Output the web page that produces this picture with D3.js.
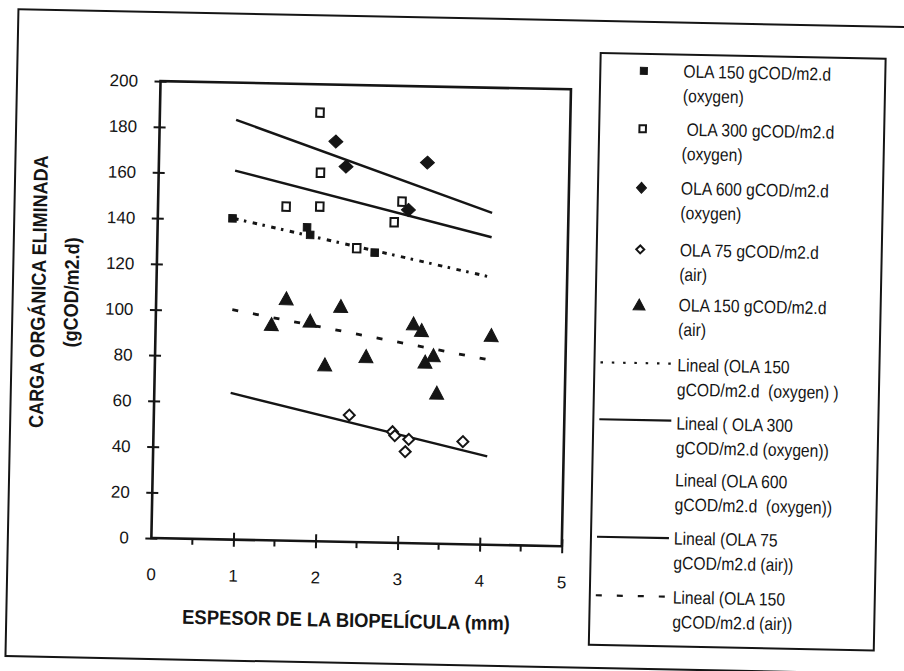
<!DOCTYPE html>
<html>
<head>
<meta charset="utf-8">
<script src="https://cdn.jsdelivr.net/npm/d3@7"></script>
<style>
body { margin: 0; background: #fff; }
text { font-family: "Liberation Sans", Arial, sans-serif; fill: #151515; }
</style>
</head>
<body>
<script>
// values
var ola150oxX = [0.91, 1.82, 1.86, 2.65];
var ola150oxY = [140.6, 137.3, 134.0, 126.8];

var ola300oxX = [1.95, 1.97, 1.56, 1.97, 2.97, 2.88, 2.43];
var ola300oxY = [187.6, 161.3, 146.2, 146.5, 149.4, 140.3, 128.6];

var ola600oxX = [2.15, 2.28, 3.27, 3.05];
var ola600oxY = [175.1, 164.2, 166.7, 145.8];

var ola75airX = [2.38, 2.91, 2.94, 3.11, 3.07, 3.77];
var ola75airY = [55.5, 48.6, 46.9, 45.4, 40.0, 44.9];

var ola150airX = [1.585, 1.41, 1.88, 2.25, 2.07, 2.57, 3.14, 3.24, 3.39, 3.29, 3.44, 4.09];
var ola150airY = [106.1, 94.7, 96.5, 103.2, 77.5, 81.5, 96.2, 93.4, 82.5, 79.6, 66.1, 91.8];

// linear trend lines (start / end)
var trendX = [0.93, 4.07];
var trend150ox = [140.5, 117.1];
var trend300ox = [161.5, 134.6];
var trend600ox = [183.7, 145.3];
var trend75air = [64.2, 38.7];
var trend150air = [100.6, 80.9];

var xTicks = [0, 1, 2, 3, 4, 5];
var xMinor = [0.5, 1.5, 2.5, 3.5, 4.5];
var yTicks = [0, 20, 40, 60, 80, 100, 120, 140, 160, 180, 200];

var legendText = [
    ["OLA 150 gCOD/m2.d", "(oxygen)"],
    [" OLA 300 gCOD/m2.d", "(oxygen)"],
    ["OLA 600 gCOD/m2.d", "(oxygen)"],
    ["OLA 75 gCOD/m2.d", "(air)"],
    ["OLA 150 gCOD/m2.d", "(air)"],
    ["Lineal (OLA 150", "gCOD/m2.d  (oxygen) )"],
    ["Lineal ( OLA 300", "gCOD/m2.d (oxygen))"],
    ["Lineal (OLA 600", "gCOD/m2.d  (oxygen))"],
    ["Lineal (OLA 75", "gCOD/m2.d (air))"],
    ["Lineal (OLA 150", "gCOD/m2.d (air))"]
];

var ink = "#151515";
var W = 904, H = 671;

var svg = d3.select("body").append("svg")
    .attr("width", W)
    .attr("height", H);

svg.append("rect").attr("width", W).attr("height", H).attr("fill", "#fff");

// the scan is a little tilted clockwise
var g = svg.append("g").attr("transform", "rotate(1.15,452,335)");

// outer frame
g.append("rect")
    .attr("x", 12).attr("y", 18)
    .attr("width", 940).attr("height", 647)
    .attr("fill", "none").attr("stroke", ink).attr("stroke-width", 2);

// scales
var x = d3.scaleLinear().domain([0, 5]).range([155.5, 566]);
var y = d3.scaleLinear().domain([0, 200]).range([544, 87]);

// marker shapes
function shape(type, w, h) {
    var a = w / 2, b = h / 2;
    if (type === "square") return `M${-a},${-b}H${a}V${b}H${-a}Z`;
    if (type === "diamond") return `M0,${-b}L${a},0L0,${b}L${-a},0Z`;
    return `M0,${-b}L${a},${b}L${-a},${b}Z`;
}

var series = [
    {xs: ola150oxX, ys: ola150oxY, type: "square", w: 7.5, h: 7.5, filled: true},
    {xs: ola300oxX, ys: ola300oxY, type: "square", w: 7.5, h: 8.5, filled: false},
    {xs: ola600oxX, ys: ola600oxY, type: "diamond", w: 14, h: 13, filled: true},
    {xs: ola75airX, ys: ola75airY, type: "diamond", w: 11, h: 11, filled: false},
    {xs: ola150airX, ys: ola150airY, type: "triangle", w: 14, h: 13, filled: true}
];

var trends = [
    {ys: trend150ox, dash: "4.5,5.5,2.5,6.5", width: 3},
    {ys: trend300ox, dash: null, width: 2.4},
    {ys: trend600ox, dash: null, width: 2.4},
    {ys: trend75air, dash: null, width: 2.4},
    {ys: trend150air, dash: "6,15", width: 2.8}
];

// plot border
g.append("rect")
    .attr("x", x(0)).attr("y", y(200))
    .attr("width", x(5) - x(0)).attr("height", y(0) - y(200))
    .attr("fill", "none").attr("stroke", ink).attr("stroke-width", 2.6);

// y axis
var yAxis = d3.axisLeft(y)
    .tickValues(yTicks)
    .tickFormat(d3.format("d"))
    .tickSizeInner(6).tickSizeOuter(0)
    .tickPadding(16.5);

var gy = g.append("g").attr("transform", `translate(${x(0)},0)`).call(yAxis);
gy.select(".domain").remove();
gy.selectAll(".tick line").attr("x1", 6).attr("stroke", ink).attr("stroke-width", 2);
gy.selectAll("text")
    .attr("font-size", 17).attr("font-family", "Liberation Sans, Arial, sans-serif")
    .attr("fill", ink);

// x axis
var xAxis = d3.axisBottom(x)
    .tickValues(xTicks)
    .tickFormat(d3.format("d"))
    .tickSizeInner(7).tickSizeOuter(0)
    .tickPadding(23);

var gx = g.append("g").attr("transform", `translate(0,${y(0)})`).call(xAxis);
gx.select(".domain").remove();
gx.selectAll(".tick line").attr("y1", -7).attr("stroke", ink).attr("stroke-width", 2);
gx.selectAll(".tick").filter(d => d === 0).select("line").remove();
gx.selectAll("text")
    .attr("font-size", 17).attr("font-family", "Liberation Sans, Arial, sans-serif")
    .attr("fill", ink);

g.selectAll(".minor")
    .data(xMinor)
    .enter()
    .append("line")
    .attr("x1", d => x(d)).attr("x2", d => x(d))
    .attr("y1", y(0)).attr("y2", y(0) + 6)
    .attr("stroke", ink).attr("stroke-width", 2);

// axis titles
g.append("text")
    .attr("transform", `translate(${(x(0) + x(5)) / 2 - 9},629) scale(0.92,1)`)
    .attr("text-anchor", "middle")
    .attr("font-size", 20).attr("font-weight", "bold")
    .text("ESPESOR DE LA BIOPELÍCULA (mm)");

g.append("text")
    .attr("transform", "translate(44.6,300) rotate(-90) scale(0.9,1)")
    .attr("text-anchor", "middle")
    .attr("font-size", 20).attr("font-weight", "bold")
    .text("CARGA ORGÁNICA ELIMINADA");

g.append("text")
    .attr("transform", "translate(77.5,300) rotate(-90) scale(0.9,1)")
    .attr("text-anchor", "middle")
    .attr("font-size", 20).attr("font-weight", "bold")
    .text("(gCOD/m2.d)");

// trend lines
var line = d3.line().x(d => x(d[0])).y(d => y(d[1]));
trends.forEach(function(t) {
    g.append("path")
        .attr("d", line(trendX.map((v, i) => [v, t.ys[i]])))
        .attr("fill", "none")
        .attr("stroke", ink)
        .attr("stroke-width", t.width)
        .attr("stroke-dasharray", t.dash);
});

// points
series.forEach(function(s) {
    g.selectAll(null)
        .data(s.xs.map((v, i) => [v, s.ys[i]]))
        .enter()
        .append("path")
        .attr("transform", d => `translate(${x(d[0])},${y(d[1])})`)
        .attr("d", shape(s.type, s.w, s.h))
        .attr("fill", s.filled ? ink : "#fff")
        .attr("stroke", ink)
        .attr("stroke-width", s.filled ? 1 : 2);
});

// legend
var lg = g.append("g");
lg.append("rect")
    .attr("x", 595).attr("y", 50)
    .attr("width", 285).attr("height", 592)
    .attr("fill", "none").attr("stroke", ink).attr("stroke-width", 2);

var legendBase = [73, 131, 190, 251.7, 306.7, 366.7, 425, 481.7, 540, 599];
var legendMarks = [
    {type: "square", w: 7, h: 7, filled: true},
    {type: "square", w: 6.5, h: 7, filled: false},
    {type: "diamond", w: 10, h: 11, filled: true},
    {type: "diamond", w: 8, h: 8, filled: false},
    {type: "triangle", w: 12, h: 11, filled: true}
];
var legendLines = [
    {y: 359.3, dash: "2.5,8.8"},
    {y: 416.3, dash: null},
    null,
    {y: 533.8, dash: null},
    {y: 592.3, dash: "6,15"}
];

legendText.forEach(function(lines, i) {
    lines.forEach(function(s, j) {
        lg.append("text")
            .attr("transform", `translate(678,${legendBase[i] + j * 24.5}) scale(0.87,1)`)
            .attr("font-size", 18)
            .style("white-space", "pre")
            .text(s);
    });
    if (i < 5) {
        var m = legendMarks[i];
        lg.append("path")
            .attr("transform", `translate(638.5,${legendBase[i] - 6})`)
            .attr("d", shape(m.type, m.w, m.h))
            .attr("fill", m.filled ? ink : "#fff")
            .attr("stroke", ink)
            .attr("stroke-width", m.filled ? 1 : 2);
    } else if (legendLines[i - 5]) {
        var l = legendLines[i - 5];
        lg.append("line")
            .attr("x1", 601).attr("x2", 673)
            .attr("y1", l.y).attr("y2", l.y)
            .attr("stroke", ink)
            .attr("stroke-width", 2.2)
            .attr("stroke-dasharray", l.dash);
    }
});
</script>
</body>
</html>
